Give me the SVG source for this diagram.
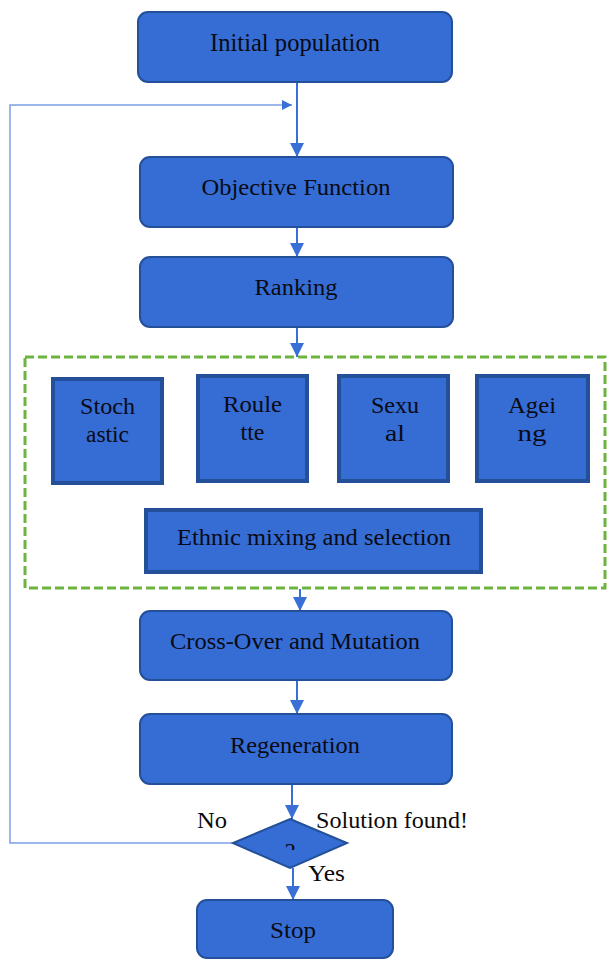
<svg xmlns="http://www.w3.org/2000/svg" width="609" height="962" viewBox="0 0 609 962">
<style>
.box{fill:#356dd5;stroke:#24509a;stroke-width:2}
.sq{fill:#356dd5;stroke:#24509a;stroke-width:4}
.t{font-family:"Liberation Serif","Times New Roman",serif;font-size:24px;fill:#0a0a14;text-anchor:middle}
.lbl{font-family:"Liberation Serif","Times New Roman",serif;font-size:24px;fill:#0a0a0a}
.c{fill:none;stroke:#3a6fd6;stroke-width:2}
.fb{fill:none;stroke:#7d9fe6;stroke-width:1.5}
</style>
<defs>
<marker id="ah" viewBox="0 0 10 10" refX="10" refY="5" markerWidth="7" markerHeight="7" markerUnits="strokeWidth" orient="auto">
<path d="M0,0 L10,5 L0,10 z" fill="#3a6fd6"/>
</marker>
<clipPath id="qclip"><rect x="280" y="841" width="20" height="9"/></clipPath>
</defs>
<rect width="609" height="962" fill="#fff"/>
<g id="connectors">
<path class="c" d="M297,82 V157" marker-end="url(#ah)"/>
<path class="fb" d="M235,843 H10 V105 H292" marker-end="url(#ah)"/>
<path class="c" d="M297,227 V257" marker-end="url(#ah)"/>
<path class="c" d="M297,327 V357" marker-end="url(#ah)"/>
<path class="c" d="M300,589 V611" marker-end="url(#ah)"/>
<path class="c" d="M297,680 V714" marker-end="url(#ah)"/>
<path class="c" d="M292,784 V819" marker-end="url(#ah)"/>
<path class="c" d="M293,868 V900" marker-end="url(#ah)"/>
</g>
<g id="group-selection">
<rect x="25" y="357" width="580" height="231" fill="none" stroke="#6cb33f" stroke-width="3" stroke-dasharray="9,4"/>
</g>
<g id="initial-population">
<rect class="box" x="138" y="12" width="314" height="70" rx="10"/>
<text class="t" x="295" y="51" textLength="170" lengthAdjust="spacingAndGlyphs" style="font-size:26px">Initial population</text>
</g>
<g id="objective-function">
<rect class="box" x="140" y="157" width="313" height="70" rx="10"/>
<text class="t" x="296" y="195" textLength="189" lengthAdjust="spacingAndGlyphs">Objective Function</text>
</g>
<g id="ranking">
<rect class="box" x="140" y="257" width="313" height="70" rx="10"/>
<text class="t" x="296" y="295" textLength="83" lengthAdjust="spacingAndGlyphs">Ranking</text>
</g>
<g id="stochastic">
<rect class="sq" x="53" y="379" width="109" height="104"/>
<text class="t" x="107.5" y="414" textLength="55" lengthAdjust="spacingAndGlyphs">Stoch</text>
<text class="t" x="107.5" y="442" textLength="43" lengthAdjust="spacingAndGlyphs">astic</text>
</g>
<g id="roulette">
<rect class="sq" x="198" y="376" width="109" height="105"/>
<text class="t" x="252.5" y="412" textLength="59" lengthAdjust="spacingAndGlyphs">Roule</text>
<text class="t" x="252.5" y="440" textLength="24" lengthAdjust="spacingAndGlyphs">tte</text>
</g>
<g id="sexual">
<rect class="sq" x="339" y="376" width="109" height="105"/>
<text class="t" x="395" y="413" textLength="48" lengthAdjust="spacingAndGlyphs">Sexu</text>
<text class="t" x="395" y="441" textLength="20" lengthAdjust="spacingAndGlyphs">al</text>
</g>
<g id="ageing">
<rect class="sq" x="477" y="376" width="111" height="105"/>
<text class="t" x="532" y="413" textLength="48" lengthAdjust="spacingAndGlyphs">Agei</text>
<text class="t" x="532" y="441" textLength="29" lengthAdjust="spacingAndGlyphs">ng</text>
</g>
<g id="ethnic-mixing">
<rect class="sq" x="146" y="510" width="335" height="62"/>
<text class="t" x="314" y="545" textLength="274" lengthAdjust="spacingAndGlyphs">Ethnic mixing and selection</text>
</g>
<g id="cross-over">
<rect class="box" x="140" y="611" width="312" height="69" rx="10"/>
<text class="t" x="295" y="649" textLength="250" lengthAdjust="spacingAndGlyphs">Cross-Over and Mutation</text>
</g>
<g id="regeneration">
<rect class="box" x="140" y="714" width="312" height="70" rx="10"/>
<text class="t" x="295" y="753" textLength="130" lengthAdjust="spacingAndGlyphs">Regeneration</text>
</g>
<g id="decision">
<polygon points="290,819 347,843 290,868 233,843" fill="#356dd5" stroke="#24509a" stroke-width="2"/>
<text class="t" x="290" y="859" clip-path="url(#qclip)">?</text>
<text class="lbl" x="197" y="828" textLength="30" lengthAdjust="spacingAndGlyphs">No</text>
<text class="lbl" x="316" y="828" textLength="152" lengthAdjust="spacingAndGlyphs">Solution found!</text>
<text class="lbl" x="308" y="881" textLength="37" lengthAdjust="spacingAndGlyphs">Yes</text>
</g>
<g id="stop">
<rect class="box" x="197" y="900" width="196" height="58" rx="10"/>
<text class="t" x="293" y="938" textLength="46" lengthAdjust="spacingAndGlyphs">Stop</text>
</g>
</svg>
